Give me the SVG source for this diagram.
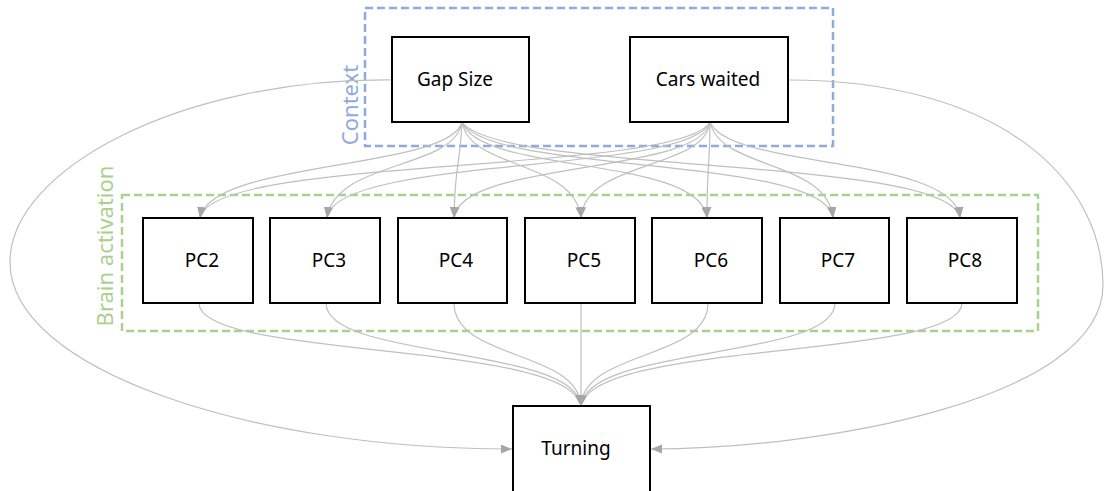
<svg xmlns="http://www.w3.org/2000/svg" width="1104" height="491" viewBox="0 0 1104 491">
<style>
.box{fill:#fff;stroke:#000;stroke-width:2}
.lbl{font-family:"Noto Sans","Open Sans",sans-serif;font-size:19px;fill:#000;text-anchor:middle}
.edge{fill:none;stroke:#bfbfbf;stroke-width:1.2;marker-end:url(#ah)}
.grp{fill:none;stroke-width:2.5;stroke-dasharray:8 4}
.glbl{font-family:"Noto Sans","Open Sans",sans-serif;font-size:22px;text-anchor:middle}
</style>
<defs>
<marker id="ah" markerUnits="userSpaceOnUse" markerWidth="11" markerHeight="11" viewBox="0 0 10 10" refX="10" refY="5" orient="auto">
<path d="M0,1 L10,5 L0,9 Z" fill="#a6a6a6"/>
</marker>
</defs>
<g id="context">
<rect class="grp" x="365" y="8" width="468" height="138" stroke="#8faadc"/>
<text class="glbl" fill="#8faadc" transform="translate(358,105) rotate(-90)">Context</text>
</g>
<g id="brain">
<rect class="grp" x="122" y="195" width="916" height="136" stroke="#a9d18e"/>
<text class="glbl" fill="#a9d18e" transform="translate(113,246) rotate(-90)">Brain activation</text>
</g>
<g id="connectors">
<path class="edge" d="M462,122 C450,170 210,160 200,218"/>
<path class="edge" d="M462,122 C455,170 335,160 327,218"/>
<path class="edge" d="M462,122 C460,170 455,160 454,218"/>
<path class="edge" d="M462,122 C470,170 575,160 581,218"/>
<path class="edge" d="M462,122 C480,175 700,155 707,218"/>
<path class="edge" d="M462,122 C490,175 825,155 833,218"/>
<path class="edge" d="M462,122 C500,175 950,155 960,218"/>
<path class="edge" d="M710,122 C680,175 210,155 200,218"/>
<path class="edge" d="M710,122 C690,175 335,155 327,218"/>
<path class="edge" d="M710,122 C700,175 460,160 454,218"/>
<path class="edge" d="M710,122 C705,170 585,160 581,218"/>
<path class="edge" d="M710,122 C710,170 707,160 707,218"/>
<path class="edge" d="M710,122 C720,170 828,160 833,218"/>
<path class="edge" d="M710,122 C730,170 955,155 960,218"/>
<path class="edge" d="M199,303 C199,360 570,340 581,406"/>
<path class="edge" d="M326,303 C326,360 575,345 581,406"/>
<path class="edge" d="M454,303 C454,360 578,350 581,406"/>
<path class="edge" d="M581,303 L581,406"/>
<path class="edge" d="M708,303 C708,360 584,350 581,406"/>
<path class="edge" d="M835,303 C835,360 587,345 581,406"/>
<path class="edge" d="M962,303 C962,360 592,340 581,406"/>
<path class="edge" d="M392,80 C180,78 10,170 10,262 C10,370 250,449 512,449"/>
<path class="edge" d="M788,80 C1000,80 1103,180 1103,285 C1103,400 820,449 651,449"/>
</g>
<g id="gap_size"><rect class="box" x="392" y="37" width="137" height="85"/><text class="lbl" x="455" y="86">Gap Size</text></g>
<g id="cars_waited"><rect class="box" x="630" y="37" width="158" height="85"/><text class="lbl" x="708" y="86">Cars waited</text></g>
<g id="pc2"><rect class="box" x="143" y="218" width="110" height="85"/><text class="lbl" x="202" y="267">PC2</text></g>
<g id="pc3"><rect class="box" x="270" y="218" width="110" height="85"/><text class="lbl" x="329" y="267">PC3</text></g>
<g id="pc4"><rect class="box" x="398" y="218" width="109" height="85"/><text class="lbl" x="456" y="267">PC4</text></g>
<g id="pc5"><rect class="box" x="525" y="218" width="110" height="85"/><text class="lbl" x="584" y="267">PC5</text></g>
<g id="pc6"><rect class="box" x="652" y="218" width="110" height="85"/><text class="lbl" x="711" y="267">PC6</text></g>
<g id="pc7"><rect class="box" x="780" y="218" width="109" height="85"/><text class="lbl" x="838" y="267">PC7</text></g>
<g id="pc8"><rect class="box" x="907" y="218" width="110" height="85"/><text class="lbl" x="965" y="267">PC8</text></g>
<g id="turning"><rect class="box" x="513" y="406" width="137" height="86"/><text class="lbl" x="576" y="455">Turning</text></g>
</svg>
